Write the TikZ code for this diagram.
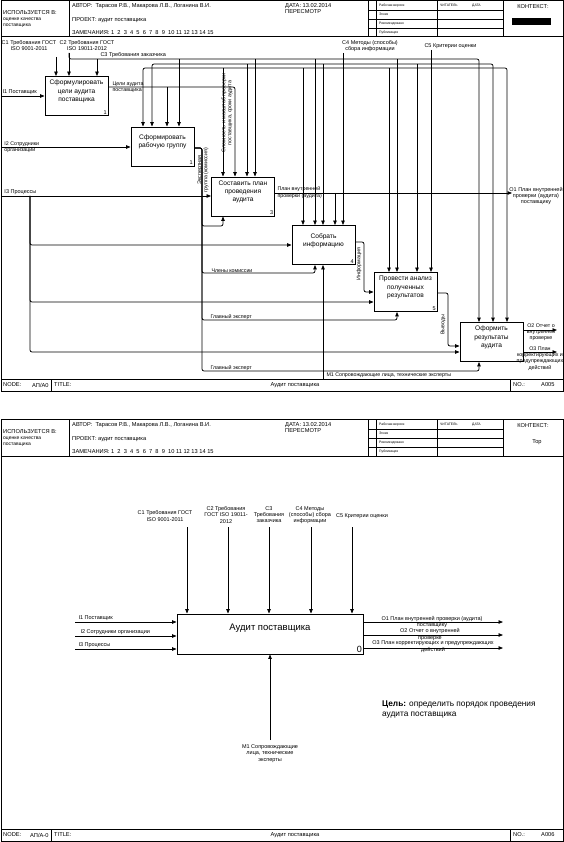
\documentclass[tikz,border=0pt]{standalone}
\usepackage{fontspec}
\setmainfont{Liberation Sans}
\usetikzlibrary{arrows.meta}

% sheet header, #1 = prefix of the node names
\newcommand{\idefhead}[1]{%
  \draw[cell] (69,1) -- (69,37);
  \draw[cell] (368,1) -- (368,37);
  \draw[cell] (376,1) -- (376,37);
  \draw[cell] (437,1) -- (437,37);
  \draw[cell] (503,1) -- (503,37);
  \draw[cell] (368,10) -- (503,10);
  \draw[cell] (368,19) -- (503,19);
  \draw[cell] (368,28) -- (503,28);
  \draw[frm] (1,37) -- (563,37);
  \node[hd] (#1use) at (3,13) {ИСПОЛЬЗУЕТСЯ В:};
  \node[hds] (#1usea) at (3,19.5) {оценке качества};
  \node[hds] (#1useb) at (3,25.5) {поставщика};
  \node[hd] (#1auth) at (72,6) {АВТОР:\ \ Тарасов Р.В.,\ Макарова Л.В.,\ Логанина В.И.};
  \node[hd] (#1proj) at (72,20) {ПРОЕКТ:\ аудит поставщика};
  \node[hd] (#1note) at (72,33) {ЗАМЕЧАНИЯ:\ 1\ \ 2\ \ 3\ \ 4\ \ 5\ \ 6\ \ 7\ \ 8\ \ 9\ \ 10\ 11\ 12\ 13\ 14\ 15};
  \node[hd] (#1date) at (285,6) {ДАТА:\ 13.02.2014};
  \node[hd] (#1rev) at (285,12) {ПЕРЕСМОТР};
  \node[tb] (#1st1) at (379,5.5) {Рабочая версия};
  \node[tb] (#1st2) at (379,14.5) {Эскиз};
  \node[tb] (#1st3) at (379,23.5) {Рекомендовано};
  \node[tb] (#1st4) at (379,32.5) {Публикация};
  \node[tb] (#1rd) at (440,5.5) {ЧИТАТЕЛЬ};
  \node[tb] (#1rdd) at (472,5.5) {ДАТА};
  \node[hd,anchor=center] (#1ctx) at (533,6.5) {КОНТЕКСТ:};
}

\begin{document}
\begin{tikzpicture}[
    x=1pt, y=-1pt,
    >={Triangle[length=4.5pt,width=3.5pt]},
    frm/.style={line width=1pt},
    cell/.style={line width=0.6pt},
    hd/.style={anchor=west, inner sep=0pt, font=\fontsize{5.7}{6.5}\selectfont},
    hds/.style={anchor=west, inner sep=0pt, font=\fontsize{5}{6}\selectfont},
    tb/.style={anchor=west, inner sep=0pt, font=\fontsize{3.4}{4}\selectfont},
    proc/.style={draw, line width=0.9pt, minimum width=63pt, minimum height=39pt, inner sep=0pt},
    ptxt/.style={align=center, inner sep=0pt, font=\fontsize{6.6}{8.3}\selectfont},
    num/.style={anchor=south east, inner sep=1.5pt, font=\fontsize{5.5}{6}\selectfont},
    wire/.style={line width=0.75pt, rounded corners=2pt},
    lab/.style={align=center, inner sep=0.3pt, font=\fontsize{5.5}{6.3}\selectfont},
    labs/.style={align=center, inner sep=0.3pt, font=\fontsize{5.3}{6.2}\selectfont}
]
\useasboundingbox (0,0) rectangle (564,842);

%%%%% sheet A0
\draw[frm] (1,1) rectangle (563,391);
\idefhead{a}
\fill (512,18) rectangle (551,25);

\node[proc] (b1) at (76.5,96) {};
\node[proc] (b2) at (162.5,146.5) {};
\node[proc] (b3) at (243,196.5) {};
\node[proc] (b4) at (323.5,245) {};
\node[proc] (b5) at (405.5,292) {};
\node[proc] (b6) at (491.5,342) {};
\node[ptxt] (b1t) at ([yshift=4.5pt]b1.center) {Сформулировать\\цели аудита\\поставщика};
\node[ptxt] (b2t) at ([yshift=4.5pt]b2.center) {Сформировать\\рабочую группу};
\node[ptxt] (b3t) at ([yshift=4.5pt]b3.center) {Составить план\\проведения\\аудита};
\node[ptxt] (b4t) at ([yshift=4.5pt]b4.center) {Собрать\\информацию};
\node[ptxt] (b5t) at ([yshift=4.5pt]b5.center) {Провести анализ\\полученных\\результатов};
\node[ptxt] (b6t) at ([yshift=4.5pt]b6.center) {Оформить\\результаты\\аудита};
\node[num] (b1n) at (b1.south east) {1};
\node[num] (b2n) at (b2.south east) {1};
\node[num] (b3n) at (b3.south east) {3};
\node[num] (b4n) at (b4.south east) {4};
\node[num] (b5n) at (b5.south east) {5};

% controls from the border
\coordinate (c1) at (56,57);
\coordinate (c2) at (69,53);
\coordinate (c4) at (343,53);
\coordinate (c5) at (431,50);
\node[lab] (lc1) at (29,45.5) {C1 Требования ГОСТ\\ISO 9001-2011};
\node[lab] (lc2) at (87,45.5) {C2 Требования ГОСТ\\ISO 19011-2012};
\node[lab, anchor=west] (lc3) at (100,55.5) {C3 Требования заказчика};
\node[lab] (lc4) at (370,46) {C4 Методы (способы)\\сбора информации};
\node[lab, anchor=west] (lc5) at (424,46) {C5 Критерии оценки};
\draw[->, wire] (c1) -- (c1 |- b1.north);
\draw[->, wire] (c2) -- (c2 |- b1.north);
\draw[->, wire] (c4) -- (c4 |- b4.north);
\draw[->, wire] (c5) -- (c5 |- b5.north);

% upper line
\coordinate (k11) at (97,59);
\coordinate (k12) at (179,59);
\coordinate (k13) at (255,59);
\coordinate (k14) at (315,59);
\coordinate (k15) at (397,59);
\coordinate (k16) at (479,59);
\draw[->, wire] (c2) |- (k16) -- (k16 |- b6.north);
\draw[->, wire] (k11) -- (k11 |- b1.north);
\draw[->, wire] (k12) -- (k12 |- b2.north);
\draw[->, wire] (k13) -- (k13 |- b3.north);
\draw[->, wire] (k14) -- (k14 |- b4.north);
\draw[->, wire] (k15) -- (k15 |- b5.north);

% middle line
\coordinate (k21) at (152,64);
\coordinate (k22) at (247,64);
\coordinate (k23) at (323,64);
\coordinate (k24) at (417,64);
\coordinate (k25) at (493,64);
\draw[<->, wire] (k21 |- b2.north) -- (k21) -- (k25) -- (k25 |- b6.north);
\draw[->, wire] (k22) -- (k22 |- b3.north);
\draw[->, wire] (k23) -- (k23 |- b4.north);
\draw[->, wire] (k24) -- (k24 |- b5.north);

% lower line
\coordinate (k31) at (143,68);
\coordinate (k32) at (223,68);
\coordinate (k33) at (303,68);
\coordinate (k34) at (389,68);
\coordinate (k35) at (507,68);
\draw[<->, wire] (k31 |- b2.north) -- (k31) -- (k35) -- (k35 |- b6.north);
\draw[->, wire] (k32) -- (k32 |- b3.north);
\draw[->, wire] (k33) -- (k33 |- b4.north);
\draw[->, wire] (k34) -- (k34 |- b5.north);
\node[labs, rotate=90] (lsz) at (227,113) {Сложность и масштаб проверки\\поставщика, сроки аудита};

% goals of the audit
\coordinate (e1) at ([yshift=9pt]b1.east);
\coordinate (g2) at (167,87);
\coordinate (g3) at (235,87);
\draw[->, wire] (e1) -| (g3 |- b3.north);
\draw[->, wire] (g2) -- (g2 |- b2.north);
\node[labs, anchor=west, align=left] (lg) at (112,87) {Цели аудита\\поставщика};

% inputs
\coordinate (i1) at (1,96);
\coordinate (i2) at (1,147);
\coordinate (i3) at (1,196);
\coordinate (j3) at (30,196);
\coordinate (q5) at ([yshift=-10pt]b5.west);
\coordinate (q6) at ([yshift=-10pt]b6.west);
\node[lab, anchor=west] (li1) at (2,92.5) {I1 Поставщик};
\node[labs, anchor=west, align=left] (li2) at (4,147) {I2 Сотрудники\\организации};
\node[lab, anchor=west] (li3) at (4,192.5) {I3 Процессы};
\draw[->, wire] (i1) -- (i1 -| b1.west);
\draw[->, wire] (i2) -- (i2 -| b2.west);
\draw[->, wire] (i3) -- (i3 -| b3.west);
\draw[->, wire] (j3) |- (b4.west);
\draw[->, wire] (j3) |- (q5);
\draw[->, wire] (j3) |- (q6);

% working group
\coordinate (e2) at ([yshift=-1.5pt]b2.east);
\coordinate (w1) at (202,226);
\coordinate (w2) at (202,273);
\coordinate (w3) at (202,320);
\coordinate (w4) at (202,371);
\draw[->, wire] (e2) -| (w1) -| ([xshift=-20pt]b3.south);
\draw[->, wire] (e2) -| (w2) -| ([xshift=-8.5pt]b4.south);
\draw[->, wire] (e2) -| (w3) -| ([xshift=-8.5pt]b5.south);
\draw[->, wire] (e2) -| (w4) -| ([xshift=-12.5pt]b6.south);
\node[labs, rotate=90] (lwg) at (203,170) {Экспертная\\группа (комиссия)};
\node[labs, anchor=west] (lcm) at (211,270.5) {Члены комиссии};
\node[labs, anchor=west] (lex1) at (210,317.5) {Главный эксперт};
\node[labs, anchor=west] (lex2) at (210,368) {Главный эксперт};

% mechanism from the border
\coordinate (m1) at (323,379);
\draw[->, wire] (m1) -- (m1 |- b4.south);
\node[labs, anchor=west] (lm1) at (326,375.5) {M1 Сопровождающие лица, технические эксперты};

% plan of the audit
\coordinate (e3) at ([yshift=3.5pt]b3.east);
\coordinate (o1) at (512,193);
\coordinate (t4) at (335,193);
\draw[->, wire] (e3) -- (o1);
\draw[->, wire] (t4) -- (t4 |- b4.north);
\node[labs, anchor=west, align=left] (lpl) at (277,192.5) {План внутренней\\проверки (аудита)};
\node[lab] (lo1) at (536,196) {O1 План внутренней\\проверки (аудита)\\поставщику};

% information and conclusions
\coordinate (e4) at ([yshift=3pt]b4.east);
\coordinate (w5) at (364,292);
\draw[->, wire] (e4) -| (w5) -- (b5.west);
\node[labs, rotate=90] (linf) at (359,264) {Информация};
\coordinate (e5) at ([yshift=-1pt]b5.east);
\coordinate (w6) at (448,346);
\draw[->, wire] (e5) -| (w6) -- (w6 -| b6.west);
\node[labs, rotate=90] (lvy) at (443,325) {Выводы};

% outputs of the last box
\coordinate (e6a) at ([yshift=12pt]b6.east);
\coordinate (e6b) at ([yshift=-10pt]b6.east);
\coordinate (o2) at (557,330);
\coordinate (o3) at (557,352);
\draw[->, wire] (e6a) -- (o2);
\draw[->, wire] (e6b) -- (o3);
\node[labs] (lo2) at (541,332) {O2 Отчет о\\внутренней\\проверке};
\node[labs] (lo3) at (540,358.5) {O3 План\\корректирующих и\\предупреждающих\\действий};

% footer
\draw[frm] (1,379) -- (563,379);
\draw[cell] (51,379) -- (51,391);
\draw[cell] (510,379) -- (510,391);
\node[hd] (af1) at (3,385) {NODE:};
\node[hd] (af2) at (32,385) {АП/А0};
\node[hd] (af3) at (54,385) {TITLE:};
\node[hd, anchor=center] (af4) at (295,385) {Аудит поставщика};
\node[hd] (af5) at (513,385) {NO.:};
\node[hd] (af6) at (541,385) {А005};

%%%%% sheet A-0
\draw[frm] (1,419) rectangle (563,841.5);
\begin{scope}[yshift=-419pt]
\idefhead{z}
\node[hd, anchor=center] (ztop) at (537,23) {Top};
\end{scope}

\node[draw, line width=0.9pt, minimum width=186pt, minimum height=40pt] (b0) at (270,634) {};
\node[font=\fontsize{9.5}{11}\selectfont, inner sep=0pt] (b0t) at ([yshift=6pt]b0.center) {Аудит поставщика};
\node[anchor=south east, inner sep=1.5pt, font=\fontsize{9}{10}\selectfont] (b0n) at (b0.south east) {0};

\coordinate (d1) at (187,527);
\coordinate (d2) at (228,527);
\coordinate (d3) at (269,527);
\coordinate (d4) at (311,527);
\coordinate (d5) at (352,527);
\draw[->, wire] (d1) -- (d1 |- b0.north);
\draw[->, wire] (d2) -- (d2 |- b0.north);
\draw[->, wire] (d3) -- (d3 |- b0.north);
\draw[->, wire] (d4) -- (d4 |- b0.north);
\draw[->, wire] (d5) -- (d5 |- b0.north);
\node[lab] (ld1) at (165,516) {C1 Требования ГОСТ\\ISO 9001-2011};
\node[lab] (ld2) at (226,515) {C2 Требования\\ГОСТ ISO 19011-\\2012};
\node[lab] (ld3) at (269,514.5) {C3\\Требования\\заказчика};
\node[lab] (ld4) at (310,515) {C4 Методы\\(способы) сбора\\информации};
\node[lab] (ld5) at (362,516.5) {C5 Критерии оценки};

\coordinate (h1) at (75,622);
\coordinate (h2) at (75,636);
\coordinate (h3) at (75,649);
\draw[->, wire] (h1) -- (h1 -| b0.west);
\draw[->, wire] (h2) -- (h2 -| b0.west);
\draw[->, wire] (h3) -- (h3 -| b0.west);
\node[lab, anchor=west] (lh1) at (78,618.5) {I1 Поставщик};
\node[lab, anchor=west] (lh2) at (80,632.5) {I2 Сотрудники организации};
\node[lab, anchor=west] (lh3) at (78,645.5) {I3 Процессы};

\coordinate (r1) at (503,622);
\coordinate (r2) at (503,635);
\coordinate (r3) at (503,648);
\draw[->, wire] (r1 -| b0.east) -- (r1);
\draw[->, wire] (r2 -| b0.east) -- (r2);
\draw[->, wire] (r3 -| b0.east) -- (r3);
\node[lab] (lr1) at (432,622) {O1 План внутренней проверки (аудита)\\поставщику};
\node[lab] (lr2) at (430,634.5) {O2 Отчет о внутренней\\проверке};
\node[lab] (lr3) at (433,646.5) {O3 План корректирующих и предупреждающих\\действий};

\coordinate (n1) at (270,740);
\draw[->, wire] (n1) -- (n1 |- b0.south);
\node[lab] (ln1) at (270,753.5) {M1 Сопровождающие\\лица, технические\\эксперты};

\node[anchor=west, align=left, inner sep=0pt, font=\fontsize{8.3}{10.5}\selectfont] (goal) at (382,709.5) {\textbf{Цель:} определить порядок проведения\\аудита поставщика};

\draw[frm] (1,829) -- (563,829);
\draw[cell] (51,829) -- (51,841.5);
\draw[cell] (510,829) -- (510,841.5);
\node[hd] (zf1) at (3,835) {NODE:};
\node[hd] (zf2) at (30,835) {АП/А-0};
\node[hd] (zf3) at (54,835) {TITLE:};
\node[hd, anchor=center] (zf4) at (295,835) {Аудит поставщика};
\node[hd] (zf5) at (513,835) {NO.:};
\node[hd] (zf6) at (541,835) {А006};
\end{tikzpicture}
\end{document}
